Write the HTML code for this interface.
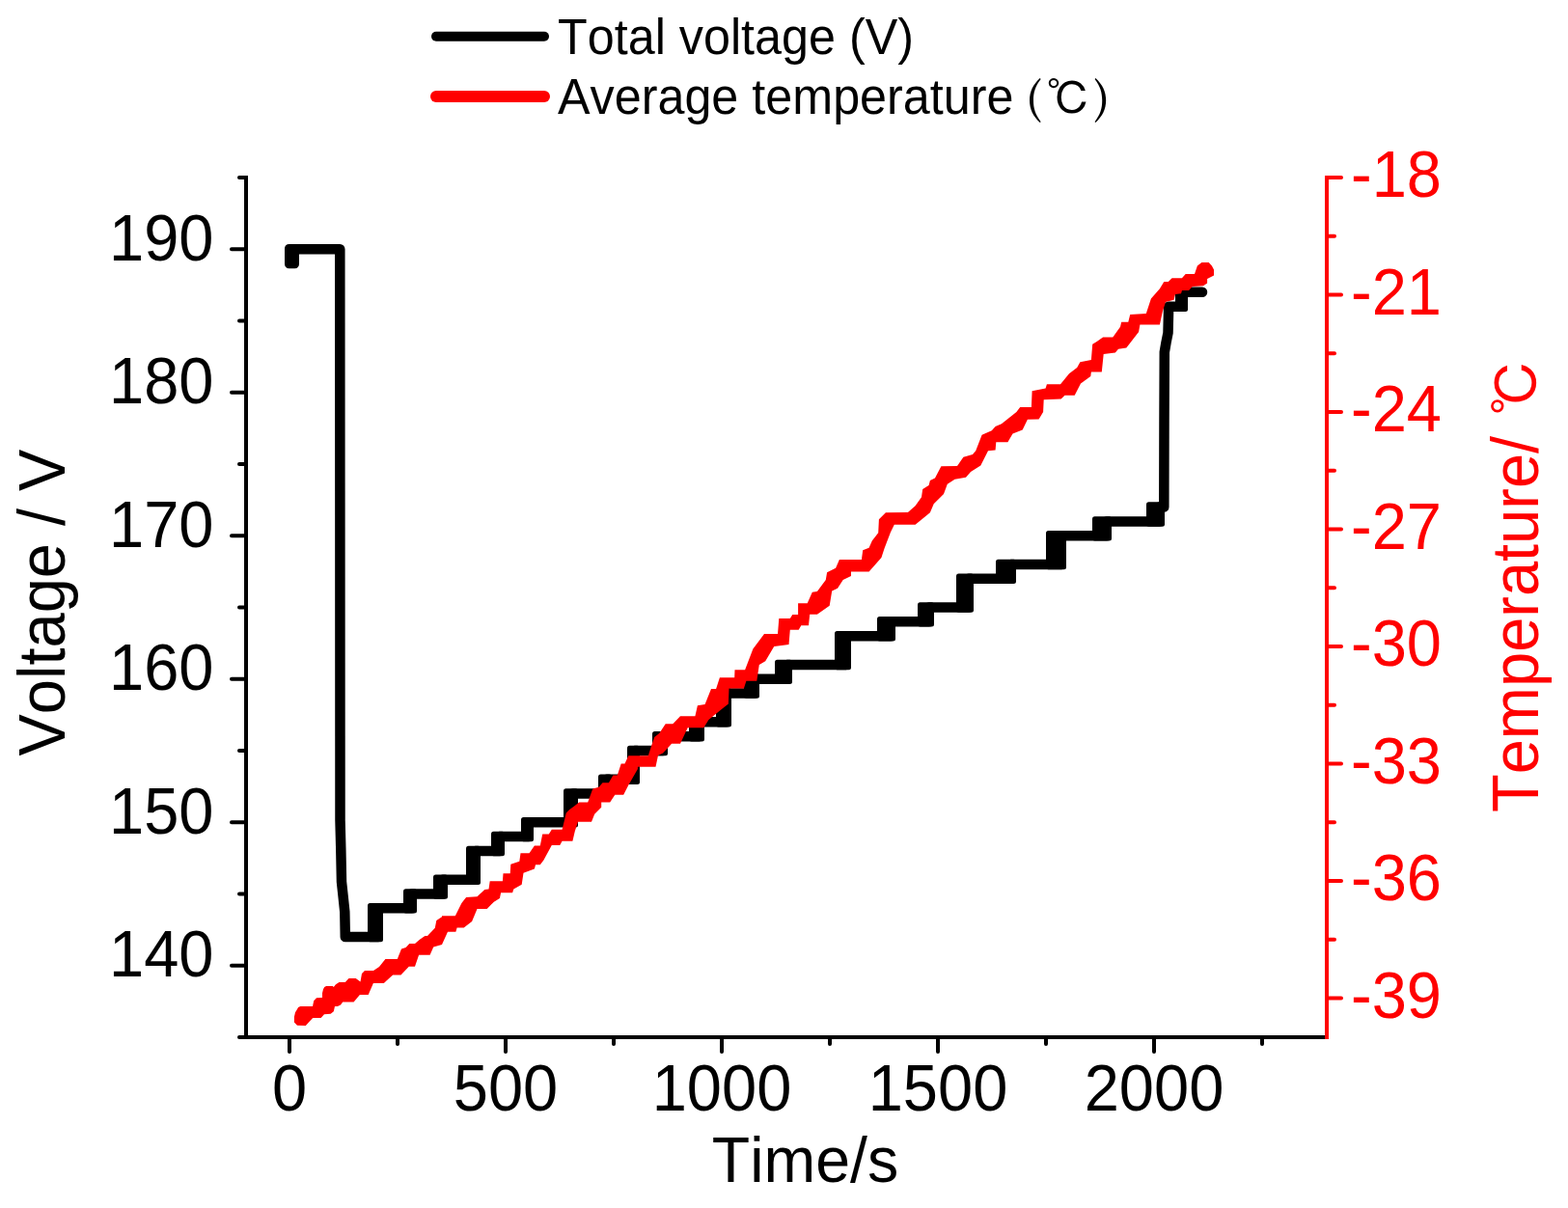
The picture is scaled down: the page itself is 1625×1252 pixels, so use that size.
<!DOCTYPE html>
<html><head><meta charset="utf-8"><title>Voltage and temperature vs time</title>
<style>html,body{margin:0;padding:0;background:#fff;overflow:hidden}svg{display:block}text{font-kerning:none}</style>
</head><body>
<svg width="1625" height="1252" viewBox="0 0 1625 1252">
<rect width="1625" height="1252" fill="#fff"/>
<g stroke-linecap="butt"><line x1="255" y1="182" x2="255" y2="1077" stroke="#000" stroke-width="4"/><line x1="253" y1="1075" x2="1375" y2="1075" stroke="#000" stroke-width="4"/><line x1="248" y1="1075.00" x2="255" y2="1075.00" stroke="#000" stroke-width="4" stroke-linecap="round"/><line x1="240" y1="1000.75" x2="255" y2="1000.75" stroke="#000" stroke-width="4" stroke-linecap="round"/><line x1="248" y1="926.50" x2="255" y2="926.50" stroke="#000" stroke-width="4" stroke-linecap="round"/><line x1="240" y1="852.25" x2="255" y2="852.25" stroke="#000" stroke-width="4" stroke-linecap="round"/><line x1="248" y1="778.00" x2="255" y2="778.00" stroke="#000" stroke-width="4" stroke-linecap="round"/><line x1="240" y1="703.75" x2="255" y2="703.75" stroke="#000" stroke-width="4" stroke-linecap="round"/><line x1="248" y1="629.50" x2="255" y2="629.50" stroke="#000" stroke-width="4" stroke-linecap="round"/><line x1="240" y1="555.25" x2="255" y2="555.25" stroke="#000" stroke-width="4" stroke-linecap="round"/><line x1="248" y1="481.00" x2="255" y2="481.00" stroke="#000" stroke-width="4" stroke-linecap="round"/><line x1="240" y1="406.75" x2="255" y2="406.75" stroke="#000" stroke-width="4" stroke-linecap="round"/><line x1="248" y1="332.50" x2="255" y2="332.50" stroke="#000" stroke-width="4" stroke-linecap="round"/><line x1="240" y1="258.25" x2="255" y2="258.25" stroke="#000" stroke-width="4" stroke-linecap="round"/><line x1="248" y1="184.00" x2="255" y2="184.00" stroke="#000" stroke-width="4" stroke-linecap="round"/><line x1="300.00" y1="1075" x2="300.00" y2="1090" stroke="#000" stroke-width="4" stroke-linecap="round"/><line x1="412.00" y1="1075" x2="412.00" y2="1082" stroke="#000" stroke-width="4" stroke-linecap="round"/><line x1="524.00" y1="1075" x2="524.00" y2="1090" stroke="#000" stroke-width="4" stroke-linecap="round"/><line x1="636.00" y1="1075" x2="636.00" y2="1082" stroke="#000" stroke-width="4" stroke-linecap="round"/><line x1="748.00" y1="1075" x2="748.00" y2="1090" stroke="#000" stroke-width="4" stroke-linecap="round"/><line x1="860.00" y1="1075" x2="860.00" y2="1082" stroke="#000" stroke-width="4" stroke-linecap="round"/><line x1="972.00" y1="1075" x2="972.00" y2="1090" stroke="#000" stroke-width="4" stroke-linecap="round"/><line x1="1084.00" y1="1075" x2="1084.00" y2="1082" stroke="#000" stroke-width="4" stroke-linecap="round"/><line x1="1196.00" y1="1075" x2="1196.00" y2="1090" stroke="#000" stroke-width="4" stroke-linecap="round"/><line x1="1308.00" y1="1075" x2="1308.00" y2="1082" stroke="#000" stroke-width="4" stroke-linecap="round"/><line x1="1375" y1="182" x2="1375" y2="1077" stroke="#f00" stroke-width="4"/><line x1="1375" y1="184.00" x2="1390" y2="184.00" stroke="#f00" stroke-width="4" stroke-linecap="round"/><line x1="1375" y1="244.75" x2="1383" y2="244.75" stroke="#f00" stroke-width="4" stroke-linecap="round"/><line x1="1375" y1="305.50" x2="1390" y2="305.50" stroke="#f00" stroke-width="4" stroke-linecap="round"/><line x1="1375" y1="366.25" x2="1383" y2="366.25" stroke="#f00" stroke-width="4" stroke-linecap="round"/><line x1="1375" y1="427.00" x2="1390" y2="427.00" stroke="#f00" stroke-width="4" stroke-linecap="round"/><line x1="1375" y1="487.75" x2="1383" y2="487.75" stroke="#f00" stroke-width="4" stroke-linecap="round"/><line x1="1375" y1="548.50" x2="1390" y2="548.50" stroke="#f00" stroke-width="4" stroke-linecap="round"/><line x1="1375" y1="609.25" x2="1383" y2="609.25" stroke="#f00" stroke-width="4" stroke-linecap="round"/><line x1="1375" y1="670.00" x2="1390" y2="670.00" stroke="#f00" stroke-width="4" stroke-linecap="round"/><line x1="1375" y1="730.75" x2="1383" y2="730.75" stroke="#f00" stroke-width="4" stroke-linecap="round"/><line x1="1375" y1="791.50" x2="1390" y2="791.50" stroke="#f00" stroke-width="4" stroke-linecap="round"/><line x1="1375" y1="852.25" x2="1383" y2="852.25" stroke="#f00" stroke-width="4" stroke-linecap="round"/><line x1="1375" y1="913.00" x2="1390" y2="913.00" stroke="#f00" stroke-width="4" stroke-linecap="round"/><line x1="1375" y1="973.75" x2="1383" y2="973.75" stroke="#f00" stroke-width="4" stroke-linecap="round"/><line x1="1375" y1="1034.50" x2="1390" y2="1034.50" stroke="#f00" stroke-width="4" stroke-linecap="round"/></g>
<g fill="#000"><rect x="295" y="253.00" width="15" height="25.35" rx="4.5"/><rect x="381" y="936.10" width="16" height="40.20" rx="2.5"/><rect x="418" y="921.25" width="14" height="25.35" rx="2.5"/><rect x="449" y="906.40" width="15" height="25.35" rx="2.5"/><rect x="483" y="876.70" width="15" height="40.20" rx="2.5"/><rect x="509" y="861.85" width="14" height="25.35" rx="2.5"/><rect x="540" y="847.00" width="13" height="25.35" rx="2.5"/><rect x="584" y="817.30" width="15" height="40.20" rx="2.5"/><rect x="620" y="802.45" width="14" height="25.35" rx="2.5"/><rect x="650" y="772.75" width="13" height="40.20" rx="2.5"/><rect x="676" y="757.90" width="16" height="25.35" rx="2.5"/><rect x="714" y="743.05" width="16" height="25.35" rx="2.5"/><rect x="742" y="713.35" width="16" height="40.20" rx="2.5"/><rect x="771" y="698.50" width="16" height="25.35" rx="2.5"/><rect x="803" y="683.65" width="18" height="25.35" rx="2.5"/><rect x="865" y="653.95" width="17" height="40.20" rx="2.5"/><rect x="909" y="639.10" width="19" height="25.35" rx="2.5"/><rect x="951" y="624.25" width="17" height="25.35" rx="2.5"/><rect x="991" y="594.55" width="18" height="40.20" rx="2.5"/><rect x="1032" y="579.70" width="21" height="25.35" rx="2.5"/><rect x="1084" y="550.00" width="21" height="40.20" rx="2.5"/><rect x="1132" y="535.15" width="20" height="25.35" rx="2.5"/><rect x="1188" y="520.30" width="19" height="25.35" rx="2.5"/><rect x="1218" y="297.55" width="13" height="25.35" rx="2.5"/></g>
<path d="M304.75,258.25 L352.30,258.25 L352.50,850.00 L353.30,880.00 L354.00,914.00 L355.50,928.00 L357.30,945.00 L357.80,971.05 L391.75,971.05 L391.75,941.35 L426.75,941.35 L426.75,926.50 L458.75,926.50 L458.75,911.65 L492.75,911.65 L492.75,881.95 L517.75,881.95 L517.75,867.10 L547.75,867.10 L547.75,852.25 L593.75,852.25 L593.75,822.55 L628.75,822.55 L628.75,807.70 L657.75,807.70 L657.75,778.00 L686.75,778.00 L686.75,763.15 L724.75,763.15 L724.75,748.30 L752.75,748.30 L752.75,718.60 L781.75,718.60 L781.75,703.75 L815.75,703.75 L815.75,688.90 L876.75,688.90 L876.75,659.20 L922.75,659.20 L922.75,644.35 L962.75,644.35 L962.75,629.50 L1003.75,629.50 L1003.75,599.80 L1047.75,599.80 L1047.75,584.95 L1099.75,584.95 L1099.75,555.25 L1146.75,555.25 L1146.75,540.40 L1201.75,540.40 L1201.75,525.55 L1206.30,525.55 L1206.50,435.00 L1206.80,365.00 L1208.50,355.00 L1210.50,345.00 L1211.00,325.00 L1211.00,317.65 L1225.75,317.65 L1225.75,302.80 L1246.00,302.80" fill="none" stroke="#000" stroke-width="10.5" stroke-linejoin="round" stroke-linecap="round"/>
<polygon points="304.9,1054.0 306.0,1049.3 308.0,1046.0 309.1,1044.0 311.3,1043.0 324.0,1043.0 325.2,1037.3 328.0,1034.2 334.0,1034.0 334.0,1029.2 335.0,1025.3 336.2,1023.0 338.1,1022.0 344.8,1022.0 345.8,1023.0 348.0,1020.3 351.5,1017.9 357.8,1017.9 361.5,1014.0 368.7,1014.0 373.5,1017.5 375.0,1009.0 378.0,1006.0 387.0,1006.0 393.0,1002.0 399.4,994.0 411.8,994.0 416.0,983.6 420.6,982.0 424.3,978.0 430.0,978.0 435.0,973.7 440.4,970.0 443.0,970.0 450.8,961.8 452.3,954.0 458.0,950.3 458.0,949.3 471.8,949.3 478.4,935.9 483.1,929.9 494.5,929.3 502.3,922.1 506.5,921.5 507.7,913.3 520.9,913.3 521.5,905.3 528.7,905.3 529.3,895.7 538.3,892.7 539.5,884.3 548.5,884.3 553.9,876.6 559.8,876.6 562.2,864.6 568.8,864.6 571.8,859.8 582.6,859.8 586.8,842.4 590.0,839.3 595.1,835.5 600.2,831.6 609.2,831.6 614.3,817.6 620.7,815.7 624.5,811.2 630.9,811.2 635.4,803.5 639.8,803.5 643.7,791.4 647.5,791.4 651.3,783.3 671.8,783.3 675.6,771.6 678.2,763.9 683.3,760.0 689.7,750.2 697.3,750.2 705.0,742.2 720.4,742.2 722.9,731.3 730.6,730.0 737.0,714.1 742.1,714.1 745.9,702.2 761.2,702.2 761.5,694.2 772.1,694.2 780.4,672.5 788.1,662.2 792.0,657.1 806.0,657.1 807.3,641.1 818.8,641.1 821.3,637.1 827.1,637.1 827.1,625.2 836.7,625.2 841.8,613.7 846.9,613.0 855.8,600.9 857.1,593.2 866.1,588.8 869.9,580.1 892.9,580.1 894.2,570.2 900.6,567.7 903.8,560.6 910.2,552.3 910.9,538.2 917.9,531.2 940.9,530.9 948.6,524.2 955.0,515.2 956.2,506.9 962.6,503.1 963.9,498.0 969.0,495.4 975.4,483.3 992.0,483.0 998.4,473.7 1008.0,471.1 1011.2,467.3 1017.6,450.7 1027.8,446.2 1031.6,442.0 1038.0,439.2 1053.4,427.0 1057.2,421.9 1068.9,421.9 1069.6,405.2 1083.6,402.4 1084.9,398.2 1099.0,398.2 1108.0,387.3 1116.2,381.0 1119.4,375.2 1130.9,373.0 1132.2,356.7 1136.7,354.1 1143.1,349.6 1153.3,349.6 1161.0,338.8 1162.2,333.7 1169.3,333.7 1171.2,326.0 1187.8,325.0 1192.9,309.4 1201.9,299.2 1206.3,292.1 1210.8,292.1 1214.6,288.3 1224.9,288.3 1228.7,284.1 1237.6,284.1 1238.0,283.9 1240.9,275.6 1245.4,272.0 1252.7,272.0 1255.9,275.6 1258.0,279.4 1258.0,285.5 1251.1,289.0 1251.1,293.5 1247.0,296.3 1247.0,296.3 1235.8,297.0 1232.0,301.0 1225.0,301.0 1224.0,304.3 1218.0,305.0 1216.6,310.7 1208.0,313.0 1205.0,322.2 1201.9,336.6 1181.4,336.6 1180.1,343.9 1171.2,355.4 1167.3,360.5 1159.0,361.8 1155.8,365.6 1143.7,366.9 1141.8,385.4 1130.9,385.4 1130.3,389.9 1120.0,397.6 1113.7,409.7 1103.5,409.7 1099.6,413.5 1081.7,414.2 1081.1,427.0 1076.6,434.6 1064.9,434.7 1059.7,445.6 1049.5,449.4 1044.4,458.3 1032.3,458.3 1031.6,466.6 1024.0,467.3 1016.3,482.6 1006.0,489.0 1001.0,494.8 989.5,496.7 981.8,501.8 978.0,512.0 967.7,522.2 963.9,531.2 948.6,543.7 926.8,543.7 923.0,551.6 916.6,568.2 913.4,577.9 900.6,592.6 882.0,592.6 882.0,597.1 873.7,600.9 868.0,609.8 862.2,612.4 859.7,627.7 846.9,636.7 839.2,636.7 838.0,648.2 830.3,648.2 827.7,652.7 818.8,652.7 817.5,668.0 802.2,669.9 793.2,685.2 786.8,689.1 784.3,705.7 773.4,705.7 770.9,713.4 755.5,713.4 754.9,729.4 748.5,734.5 734.4,746.0 729.3,754.3 712.7,754.3 705.0,770.7 696.1,770.7 687.1,780.5 682.0,783.0 679.5,794.8 660.9,794.8 660.9,797.1 651.3,813.7 646.2,823.7 637.3,823.7 632.2,831.6 623.2,831.6 623.2,836.7 616.2,843.8 613.0,851.8 599.0,851.8 595.8,861.6 593.4,871.8 582.6,871.8 580.2,876.0 571.8,876.0 563.4,891.5 559.8,896.3 555.0,896.3 553.9,900.5 542.5,904.7 540.7,916.7 532.3,921.5 531.1,925.3 519.1,925.3 517.9,931.1 511.9,934.7 504.7,941.9 494.5,941.9 489.1,955.0 480.7,961.6 473.6,961.6 472.4,965.8 464.0,965.8 458.0,979.0 449.2,981.5 445.6,989.8 434.1,989.8 430.0,1001.8 423.8,1001.8 415.5,1010.6 407.1,1010.6 397.8,1018.9 386.9,1018.9 381.7,1030.9 372.9,1030.9 366.6,1038.6 355.2,1038.6 353.0,1041.6 349.9,1043.0 347.0,1043.0 345.8,1048.3 342.7,1050.7 336.0,1051.2 332.6,1055.0 324.2,1055.0 320.0,1059.4 316.8,1063.0 308.0,1062.7 304.9,1059.6" fill="#f00"/>
<g font-family="'Liberation Sans', Arial, sans-serif" font-size="65" fill="#000"><text transform="translate(221.50,1012.25) scale(1,1.045)" text-anchor="end">140</text><text transform="translate(221.50,863.75) scale(1,1.045)" text-anchor="end">150</text><text transform="translate(221.50,715.25) scale(1,1.045)" text-anchor="end">160</text><text transform="translate(221.50,566.75) scale(1,1.045)" text-anchor="end">170</text><text transform="translate(221.50,418.25) scale(1,1.045)" text-anchor="end">180</text><text transform="translate(221.50,269.75) scale(1,1.045)" text-anchor="end">190</text><text transform="translate(300.00,1150.50) scale(1,1.045)" text-anchor="middle">0</text><text transform="translate(524.00,1150.50) scale(1,1.045)" text-anchor="middle">500</text><text transform="translate(748.00,1150.50) scale(1,1.045)" text-anchor="middle">1000</text><text transform="translate(972.00,1150.50) scale(1,1.045)" text-anchor="middle">1500</text><text transform="translate(1196.00,1150.50) scale(1,1.045)" text-anchor="middle">2000</text><text transform="translate(834.50,1225.00) scale(1,1.045)" text-anchor="middle" font-size="64.5">Time/s</text><text transform="translate(66.60,783.50) rotate(-90) scale(1,1.045)">Voltage / V</text></g>
<g font-family="'Liberation Sans', Arial, sans-serif" font-size="65" fill="#f00"><text transform="translate(1400.00,204.00) scale(1,1.045)">-18</text><text transform="translate(1400.00,325.50) scale(1,1.045)">-21</text><text transform="translate(1400.00,447.00) scale(1,1.045)">-24</text><text transform="translate(1400.00,568.50) scale(1,1.045)">-27</text><text transform="translate(1400.00,690.00) scale(1,1.045)">-30</text><text transform="translate(1400.00,811.50) scale(1,1.045)">-33</text><text transform="translate(1400.00,933.00) scale(1,1.045)">-36</text><text transform="translate(1400.00,1054.50) scale(1,1.045)">-39</text><text transform="translate(1593.50,842.00) rotate(-90) scale(1,1.045)">Temperature/</text></g>
<text transform="translate(1594,430.4) rotate(-90)" font-family="'Liberation Sans', IPAGothic, sans-serif" font-size="59" fill="#f00">℃</text>
<line x1="452" y1="37.8" x2="564" y2="37.8" stroke="#000" stroke-width="10" stroke-linecap="round"/>
<line x1="452" y1="99.9" x2="564" y2="99.9" stroke="#f00" stroke-width="12" stroke-linecap="round"/>
<g font-family="'Liberation Sans', Arial, sans-serif" font-size="50.3" fill="#000">
<text transform="translate(578.00,56.20) scale(1,1.045)">Total voltage (V)</text>
<text transform="translate(578.00,117.70) scale(1,1.045)">Average temperature</text>
</g>
<g font-family="'Noto Serif CJK SC', serif" font-weight="600" fill="#000">
<text x="1063" y="118.3" font-size="44.7">(</text>
<text x="1084.5" y="119.1" font-size="45.9" font-weight="400" font-family="'Liberation Sans', IPAGothic, sans-serif">℃</text>
<text x="1132.9" y="118.3" font-size="44.7">)</text>
</g>
</svg>
</body></html>
